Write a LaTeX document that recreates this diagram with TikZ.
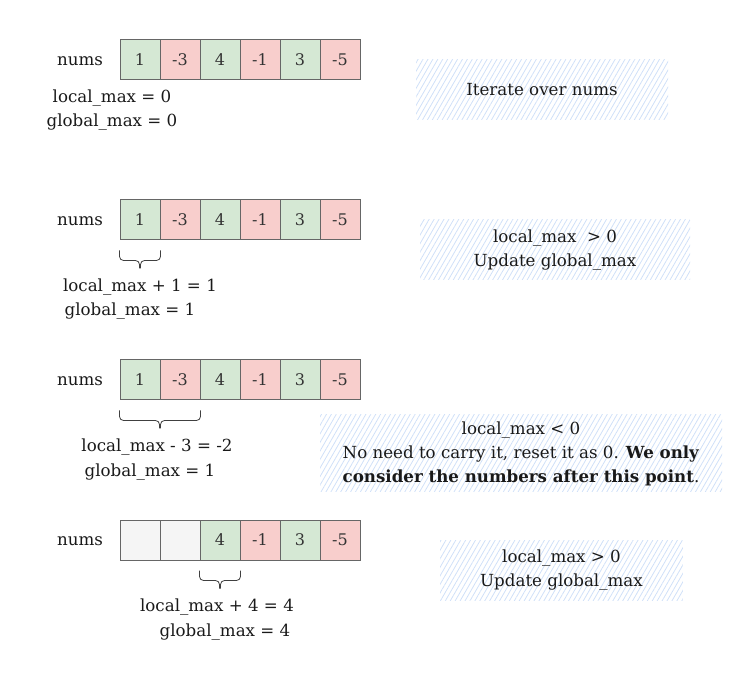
\documentclass[tikz,border=0pt]{standalone}
\usepackage{fontspec}
\setmainfont{DejaVu Serif}
\usetikzlibrary{patterns.meta}
\definecolor{cgreen}{HTML}{D5E8D4}
\definecolor{cred}{HTML}{F8CECC}
\definecolor{cgrey}{HTML}{F5F5F5}
\definecolor{cborder}{HTML}{666666}
\definecolor{ctext}{HTML}{333333}
\definecolor{hatchc}{HTML}{D0E0F8}
\begin{document}
\begin{tikzpicture}[x=0.75pt,y=-0.75pt,
 cellbox/.style={draw=cborder,line width=0.75pt,minimum width=30pt,minimum height=30pt,inner sep=0pt,font=\fontsize{12}{14}\selectfont,text=ctext},
 poscell/.style={cellbox,fill=cgreen}, negcell/.style={cellbox,fill=cred}, blankcell/.style={cellbox,fill=cgrey},
 lbl/.style={font=\fontsize{12.5}{14}\selectfont,inner sep=0pt,text=black!90},
 notebox/.style={pattern={Lines[angle=60,distance=3.2pt,line width=0.6pt]},pattern color=hatchc,
   inner sep=0pt,align=center,font=\fontsize{12.5}{18}\selectfont,text=black!90},
 bracestyle/.style={draw=black!75,line width=0.6pt,rounded corners=3pt}
]
\useasboundingbox (0,0) rectangle (751,681);

% row 1
\node[lbl] (n1) at (80,61) {nums};
\node[poscell] (r1c1) at (140,60) {1};
\node[negcell] (r1c2) at (180,60) {-3};
\node[poscell] (r1c3) at (220,60) {4};
\node[negcell] (r1c4) at (260,60) {-1};
\node[poscell] (r1c5) at (300,60) {3};
\node[negcell] (r1c6) at (340,60) {-5};
\node[lbl] (l1a) at (112,98) {local\_max = 0};
\node[lbl] (l1b) at (112,122) {global\_max = 0};
\node[notebox,minimum width=189pt,minimum height=45pt] (t1) at (542,90) {Iterate over nums};

% row 2
\node[lbl] (n2) at (80,221) {nums};
\node[poscell] (r2c1) at (140,220) {1};
\node[negcell] (r2c2) at (180,220) {-3};
\node[poscell] (r2c3) at (220,220) {4};
\node[negcell] (r2c4) at (260,220) {-1};
\node[poscell] (r2c5) at (300,220) {3};
\node[negcell] (r2c6) at (340,220) {-5};
\coordinate (b2a) at ([yshift=-7.5pt]r2c1.south west);
\coordinate (b2b) at ([yshift=-7.5pt]r2c1.south east);
\draw[bracestyle] (b2a) -- ++(0,10) -- ++(20,0) -- ++(0,8);
\draw[bracestyle] (b2b) -- ++(0,10) -- ++(-20,0) -- ++(0,8);
\node[lbl] (l2a) at (140,287) {local\_max + 1 = 1};
\node[lbl] (l2b) at (130,311) {global\_max = 1};
\node[notebox,minimum width=202.5pt,minimum height=45pt] (t2) at (555,250) {local\_max\ \ > 0\\Update global\_max};

% row 3
\node[lbl] (n3) at (80,381) {nums};
\node[poscell] (r3c1) at (140,380) {1};
\node[negcell] (r3c2) at (180,380) {-3};
\node[poscell] (r3c3) at (220,380) {4};
\node[negcell] (r3c4) at (260,380) {-1};
\node[poscell] (r3c5) at (300,380) {3};
\node[negcell] (r3c6) at (340,380) {-5};
\coordinate (b3a) at ([yshift=-7.5pt]r3c1.south west);
\coordinate (b3b) at ([yshift=-7.5pt]r3c2.south east);
\draw[bracestyle] (b3a) -- ++(0,10) -- ++(40,0) -- ++(0,8);
\draw[bracestyle] (b3b) -- ++(0,10) -- ++(-40,0) -- ++(0,8);
\node[lbl] (l3a) at (157,447) {local\_max - 3 = -2};
\node[lbl] (l3b) at (150,472) {global\_max = 1};
\node[notebox,minimum width=301.5pt,minimum height=57.75pt] (t3) at (521,453.5) {local\_max < 0\\No need to carry it, reset it as 0. \textbf{We only}\\\textbf{consider the numbers after this point}.};

% row 4
\node[lbl] (n4) at (80,541) {nums};
\node[blankcell] (r4c1) at (140,540) {};
\node[blankcell] (r4c2) at (180,540) {};
\node[poscell] (r4c3) at (220,540) {4};
\node[negcell] (r4c4) at (260,540) {-1};
\node[poscell] (r4c5) at (300,540) {3};
\node[negcell] (r4c6) at (340,540) {-5};
\coordinate (b4a) at ([yshift=-7.5pt]r4c3.south west);
\coordinate (b4b) at ([yshift=-7.5pt]r4c3.south east);
\draw[bracestyle] (b4a) -- ++(0,10) -- ++(20,0) -- ++(0,8);
\draw[bracestyle] (b4b) -- ++(0,10) -- ++(-20,0) -- ++(0,8);
\node[lbl] (l4a) at (217,607) {local\_max + 4 = 4};
\node[lbl] (l4b) at (225,632) {global\_max = 4};
\node[notebox,minimum width=182pt,minimum height=45pt] (t4) at (561.5,570) {local\_max > 0\\Update global\_max};
\end{tikzpicture}
\end{document}
